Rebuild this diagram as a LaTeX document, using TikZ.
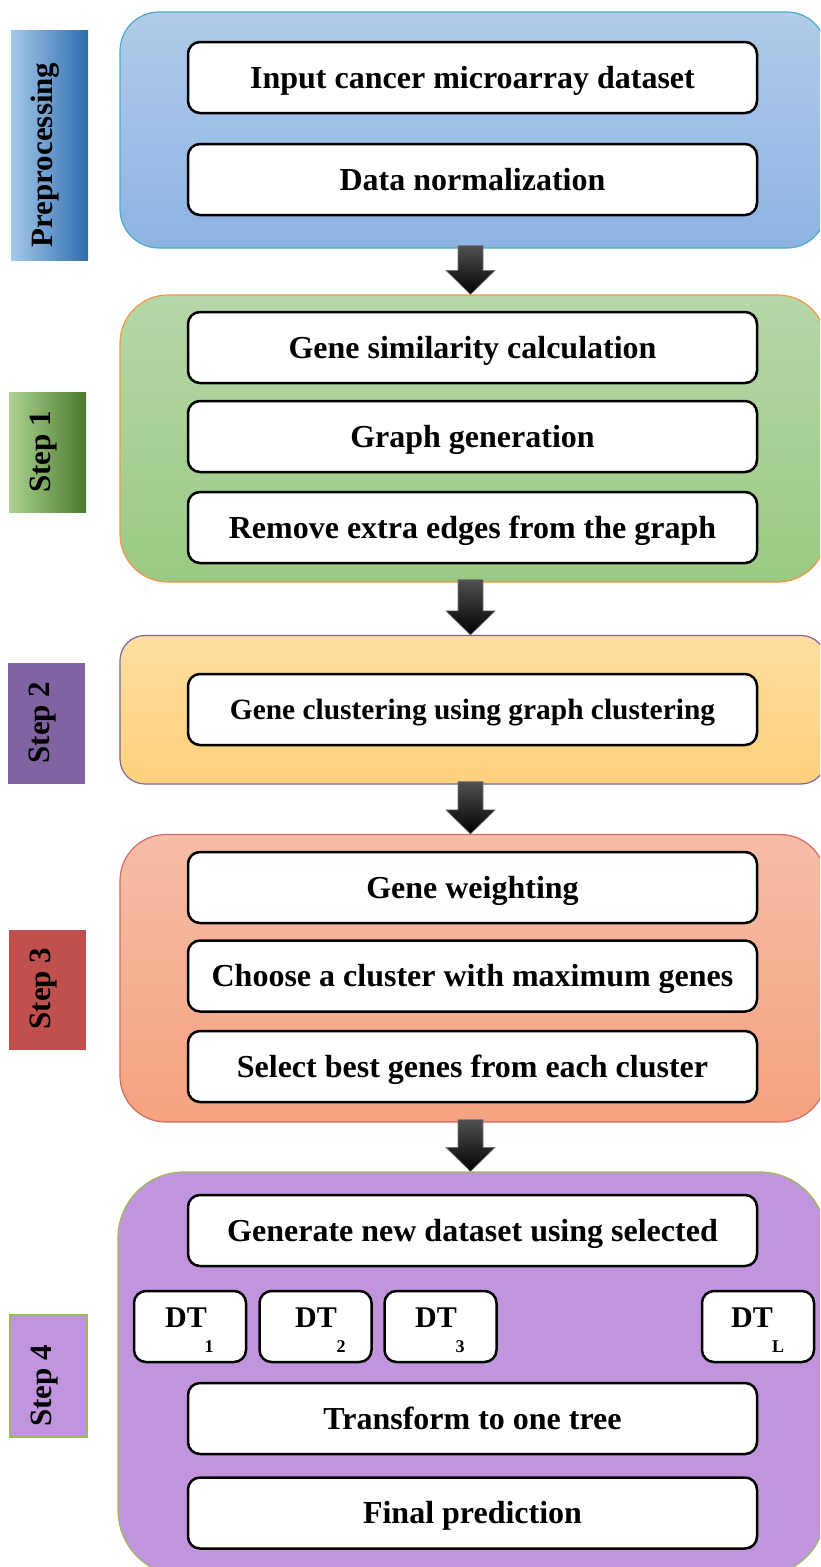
\documentclass[tikz,border=0pt]{standalone}
\usepackage{fontspec}
\setmainfont{Liberation Serif}
\usetikzlibrary{calc}
\definecolor{pzTop}{HTML}{B0CBE9}\definecolor{pzBot}{HTML}{8DB3E2}\definecolor{pzLine}{HTML}{4BACC6}
\definecolor{poTop}{HTML}{B6D7A8}\definecolor{poBot}{HTML}{9BC983}\definecolor{poLine}{HTML}{F79646}
\definecolor{ptTop}{HTML}{FFDE9F}\definecolor{ptBot}{HTML}{FED17C}\definecolor{ptLine}{HTML}{8064A2}
\definecolor{phTop}{HTML}{F6BDA7}\definecolor{phBot}{HTML}{F5A27F}\definecolor{phLine}{HTML}{D36B66}
\definecolor{pfFill}{HTML}{C095DD}\definecolor{pfLine}{HTML}{9BBB59}
\definecolor{tzL}{HTML}{A5C8EC}\definecolor{tzR}{HTML}{2E6DAD}
\definecolor{toL}{HTML}{ADD392}\definecolor{toM}{HTML}{74B04A}\definecolor{toR}{HTML}{4A7A2E}
\definecolor{ttFill}{HTML}{8064A2}\definecolor{thFill}{HTML}{C0504D}
\newcommand{\blockarrow}[2]{%
  \path[arrowfill] let \p1=(#1.south), \p2=(#2.north) in
    (\x1-15pt,\y1+3pt) -- (\x1+10pt,\y1+3pt) -- (\x1+10pt,\y2+24pt) --
    (\x1+22pt,\y2+24pt) -- (\x1-2.5pt,\y2) -- (\x1-27pt,\y2+24pt) --
    (\x1-15pt,\y2+24pt) -- cycle;}
\begin{document}
\begin{tikzpicture}[x=1pt,y=-1pt,
  panel/.style={rounded corners=#1, line width=1.2pt, inner sep=0pt},
  stepbox/.style={draw=black, line width=2.5pt, fill=white, rounded corners=12pt,
    minimum width=569pt, minimum height=71pt, inner sep=0pt,
    text height=21pt, text depth=0pt, font=\bfseries\fontsize{32}{36}\selectfont},
  dtbox/.style={draw=black, line width=2.5pt, fill=white, rounded corners=12pt,
    minimum width=112pt, minimum height=71pt, inner sep=0pt},
  dttext/.style={inner sep=0pt, text height=20pt, text depth=0pt, font=\bfseries\fontsize{30}{34}\selectfont},
  dtsub/.style={inner sep=0pt, text height=12pt, text depth=0pt, font=\bfseries\fontsize{18}{20}\selectfont},
  tab/.style={inner sep=0pt, minimum width=77pt},
  tablabel/.style={rotate=90, inner sep=0pt, text height=21pt, text depth=0pt,
    font=\bfseries\fontsize{31}{36}\selectfont},
  arrowfill/.style={top color=black!68, middle color=black, bottom color=black, draw=black!55, line width=0.6pt},
]
\useasboundingbox (0,0) rectangle (820,1567);
\clip (0,0) rectangle (820,1567);

% panels
\node[panel=39pt, draw=pzLine, top color=pzTop, bottom color=pzBot,
  minimum width=706pt, minimum height=236pt] (p0) at (473,130) {};
\node[panel=48pt, draw=poLine, top color=poTop, bottom color=poBot,
  minimum width=706pt, minimum height=287pt] (p1) at (473,438.5) {};
\node[panel=25pt, draw=ptLine, top color=ptTop, bottom color=ptBot,
  minimum width=706pt, minimum height=148.5pt] (p2) at (473,709.75) {};
\node[panel=46pt, draw=phLine, top color=phTop, bottom color=phBot,
  minimum width=706pt, minimum height=287.5pt] (p3) at (473,978.25) {};
\node[panel=66pt, draw=pfLine, fill=pfFill,
  minimum width=708pt, minimum height=404pt] (p4) at (472,1374) {};

% tabs
\node[tab, minimum height=230pt, left color=tzL, right color=tzR] (t0) at (49.5,145) {};
\node[tablabel] (l0) at (41.5,155) {Preprocessing};
\node[tab, minimum height=120pt, left color=toL, middle color=toM, right color=toR] (t1) at (47.5,452) {};
\node[tablabel] (l1) at (39.5,452) {Step 1};
\node[tab, minimum height=121pt, fill=ttFill] (t2) at (46.5,723.5) {};
\node[tablabel] (l2) at (38.5,722.5) {Step 2};
\node[tab, minimum height=120pt, fill=thFill] (t3) at (47.5,990) {};
\node[tablabel] (l3) at (39.5,988.5) {Step 3};
\node[tab, minimum height=122pt, fill=pfFill, draw=pfLine, line width=1.5pt] (t4) at (48.5,1376) {};
\node[tablabel] (l4) at (40.5,1386) {Step 4};

% boxes
\node[stepbox] (b1) at (472.5,77.5) {Input cancer microarray dataset};
\node[stepbox] (b2) at (472.5,179.5) {Data normalization};
\node[stepbox] (b3) at (472.5,347.5) {Gene similarity calculation};
\node[stepbox] (b4) at (472.5,436.5) {Graph generation};
\node[stepbox] (b5) at (472.5,527.5) {Remove extra edges from the graph};
\node[stepbox, text height=19.5pt, font=\bfseries\fontsize{29.4}{34}\selectfont] (b6) at (472.5,709.5) {Gene clustering using graph clustering};
\node[stepbox] (b7) at (472.5,887.5) {Gene weighting};
\node[stepbox] (b8) at (472.5,976) {Choose a cluster with maximum genes};
\node[stepbox] (b9) at (472.5,1066.5) {Select best genes from each cluster};
\node[stepbox] (b10) at (472.5,1230.5) {Generate new dataset using selected};
\node[stepbox] (b11) at (472.5,1418.5) {Transform to one tree};
\node[stepbox] (b12) at (472.5,1513) {Final prediction};

% decision trees
\node[dtbox] (d1) at (190,1326.5) {};
\node[dtbox] (d2) at (315.5,1326.5) {};
\node[dtbox] (d3) at (440.5,1326.5) {};
\node[dtbox] (dL) at (758,1326.5) {};
\node[dttext] (d1t) at (186,1317) {DT};
\node[dtsub] (d1s) at (209,1346) {1};
\node[dttext] (d2t) at (316,1317) {DT};
\node[dtsub] (d2s) at (341,1346) {2};
\node[dttext] (d3t) at (436,1317) {DT};
\node[dtsub] (d3s) at (460,1346) {3};
\node[dttext] (dLt) at (752,1317) {DT};
\node[dtsub] (dLs) at (778,1346) {L};

% arrows
\blockarrow{p0}{p1}
\blockarrow{p1}{p2}
\blockarrow{p2}{p3}
\blockarrow{p3}{p4}
\end{tikzpicture}
\end{document}
